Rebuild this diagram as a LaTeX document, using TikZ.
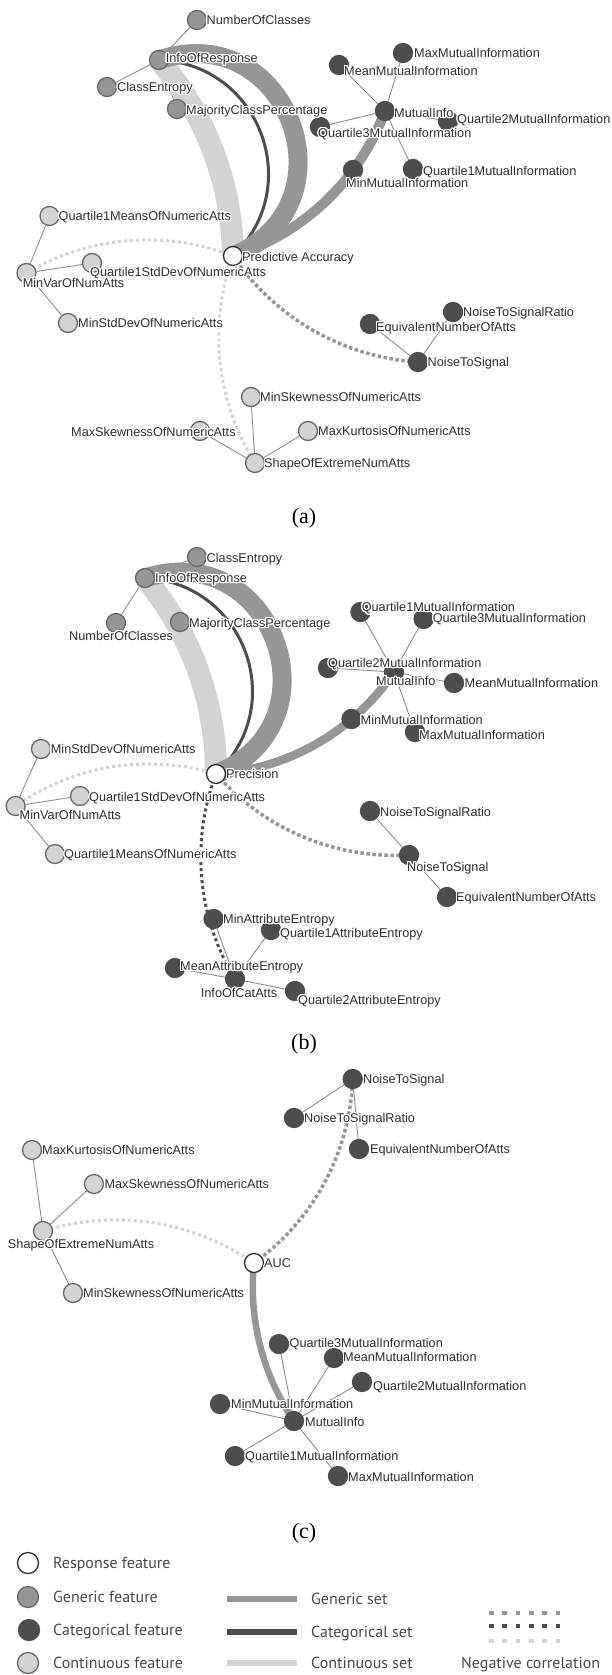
\documentclass[tikz,border=0pt]{standalone}
\usepackage{fontspec}
\usepackage{contour}
\setmainfont{Liberation Serif}
\newfontfamily\lblfont{Liberation Sans}
\newfontfamily\keyfont{PT Sans}
\contourlength{1.2pt}
\contournumber{24}

\definecolor{gen}{HTML}{969696}
\definecolor{cat}{HTML}{4D4D4D}
\definecolor{cont}{HTML}{D3D3D3}
\definecolor{rim}{HTML}{686868}
\definecolor{ink}{HTML}{2E2E2E}
\definecolor{wire}{HTML}{8C8C8C}
\definecolor{keyink}{HTML}{474747}

\pgfdeclarelayer{bg}
\pgfdeclarelayer{fg}
\pgfsetlayers{bg,main,fg}

\tikzset{
  feat/.style={circle, minimum size=19pt, inner sep=0pt, line width=1.3pt},
  resp/.style={feat, draw=ink, fill=white},
  genf/.style={feat, draw=rim, fill=gen},
  catf/.style={feat, draw=cat, fill=cat},
  contf/.style={feat, draw=rim, fill=cont},
  lbl/.style={anchor=base west, inner sep=0pt, text=ink, font=\lblfont\fontsize{12.7}{14}\selectfont, yshift=-4.5pt},
  key/.style={anchor=base west, inner sep=0pt, text=keyink, font=\keyfont\fontsize{16}{18}\selectfont, yshift=-5.5pt},
  tie/.style={draw=wire, line width=0.9pt},
  genset/.style={draw=gen},
  catset/.style={draw=cat},
  contset/.style={draw=cont},
  negcorr/.style={dash pattern=on 3pt off 3pt, line width=3pt},
  % arc shapes
  bow/.style={bend right=26, looseness=0.9},
  bowa/.style={bend right=20, looseness=0.88},
  bowb/.style={bend right=67, looseness=1.23},
  bowc/.style={bend right=88, looseness=1.65}
}

% name, style, position, label position, text
\newcommand{\feat}[5]{%
  \node[#2] (#1) at (#3) {};
  \begin{pgfonlayer}{fg}
    \node[lbl] (#1-lbl) at (#4) {\contour{white}{#5}};
  \end{pgfonlayer}}

\begin{document}
\begin{tikzpicture}[x=1pt, y=-1pt]
    \useasboundingbox (0,0) rectangle (611,1675);

    % ---------- (a) ----------
    \feat{aNoc}{genf}{197,20}{206.5,20}{NumberOfClasses}
    \feat{aIor}{genf}{159,60}{165.6,58}{InfoOfResponse}
    \feat{aCe}{genf}{107,87}{117,87}{ClassEntropy}
    \feat{aMcp}{genf}{177,109}{186,110}{MajorityClassPercentage}
    \feat{aMean}{catf}{339,65}{344,71}{MeanMutualInformation}
    \feat{aMax}{catf}{403,53}{414,53}{MaxMutualInformation}
    \feat{aMi}{catf}{385,111}{394,113}{MutualInfo}
    \feat{aQ2}{catf}{448,121}{457,119}{Quartile2MutualInformation}
    \feat{aQ3}{catf}{320,127}{318,133}{Quartile3MutualInformation}
    \feat{aMin}{catf}{353,170}{346,183}{MinMutualInformation}
    \feat{aQ1}{catf}{413,169}{423,171}{Quartile1MutualInformation}
    \feat{aQmeans}{contf}{49.5,216}{58.5,216}{Quartile1MeansOfNumericAtts}
    \feat{aPa}{resp}{233,256}{242,257}{Predictive Accuracy}
    \feat{aQstd}{contf}{92,263}{90,272}{Quartile1StdDevOfNumericAtts}
    \feat{aMinvar}{contf}{26.5,273}{22.6,283}{MinVarOfNumAtts}
    \feat{aMinstd}{contf}{68,323}{78,323}{MinStdDevOfNumericAtts}
    \feat{aEna}{catf}{370,324}{376,327}{EquivalentNumberOfAtts}
    \feat{aNsr}{catf}{453,312}{463,312}{NoiseToSignalRatio}
    \feat{aNts}{catf}{418,362}{427.5,362}{NoiseToSignal}
    \feat{aMinsk}{contf}{251,397}{260,397}{MinSkewnessOfNumericAtts}
    \feat{aMaxsk}{contf}{200,431}{71,432}{MaxSkewnessOfNumericAtts}
    \feat{aMaxku}{contf}{308,431}{318,431}{MaxKurtosisOfNumericAtts}
    \feat{aShape}{contf}{255,463}{264,463}{ShapeOfExtremeNumAtts}

    \begin{pgfonlayer}{bg}
    \foreach \u/\v in {aIor/aNoc, aIor/aCe, aIor/aMcp, aMi/aMean, aMi/aMax, aMi/aQ2, aMi/aQ3, aMi/aMin, aMi/aQ1,
                       aMinvar/aQmeans, aMinvar/aQstd, aMinvar/aMinstd, aNts/aEna, aNts/aNsr,
                       aShape/aMinsk, aShape/aMaxsk, aShape/aMaxku}
        \draw[tie] (\u) -- (\v);
    \draw[contset, negcorr] (aPa.center) to[bow] (aMinvar.center);
    \draw[contset, negcorr] (aPa.center) to[bow] (aShape.center);
    \draw[genset, negcorr, dash pattern=on 3.5pt off 2.5pt, line width=3.5pt] (aPa.center) to[bow] (aNts.center);
    \draw[contset, line width=22pt] (aPa.center) to[bowa] (aIor.center);
    \draw[catset, line width=3pt] (aPa.center) to[bowb] (aIor.center);
    \draw[genset, line width=19pt] (aPa.center) to[bowc] (aIor.center);
    \draw[genset, line width=10pt] (aPa.center) to[bow] (aMi.center);
    \end{pgfonlayer}

    \node[font=\fontsize{22}{24}\selectfont] (capA) at (304,518) {(a)};

    % ---------- (b) ----------
    \feat{bCe}{genf}{197,557}{206.5,558}{ClassEntropy}
    \feat{bIor}{genf}{145,578}{155,578}{InfoOfResponse}
    \feat{bNoc}{genf}{116,623}{69,636}{NumberOfClasses}
    \feat{bMcp}{genf}{180,622}{189,623}{MajorityClassPercentage}
    \feat{bQ1}{catf}{360.5,612}{361.6,607}{Quartile1MutualInformation}
    \feat{bQ3}{catf}{423.6,619}{432.6,618}{Quartile3MutualInformation}
    \feat{bQ2}{catf}{328,668}{328,663}{Quartile2MutualInformation}
    \feat{bMi}{catf}{394,672}{376,681}{MutualInfo}
    \feat{bMean}{catf}{454,683}{464.5,683}{MeanMutualInformation}
    \feat{bMin}{catf}{351.5,719}{360.5,720}{MinMutualInformation}
    \feat{bMax}{catf}{415,732}{419,735}{MaxMutualInformation}
    \feat{bMinstd}{contf}{41,749}{50.7,749}{MinStdDevOfNumericAtts}
    \feat{bPr}{resp}{216,774}{226,774}{Precision}
    \feat{bQstd}{contf}{80,796}{89,797}{Quartile1StdDevOfNumericAtts}
    \feat{bMinvar}{contf}{15.6,806}{19.5,815}{MinVarOfNumAtts}
    \feat{bQmeans}{contf}{55,854}{64,854}{Quartile1MeansOfNumericAtts}
    \feat{bNsr}{catf}{370,811}{380,812}{NoiseToSignalRatio}
    \feat{bNts}{catf}{409,855}{407,867}{NoiseToSignal}
    \feat{bEna}{catf}{447,897}{456,897}{EquivalentNumberOfAtts}
    \feat{bMinae}{catf}{213.6,919}{223,919}{MinAttributeEntropy}
    \feat{bQ1ae}{catf}{271,930}{280,933}{Quartile1AttributeEntropy}
    \feat{bMeanae}{catf}{175,968}{180,966}{MeanAttributeEntropy}
    \feat{bIca}{catf}{235,979}{200.7,993}{InfoOfCatAtts}
    \feat{bQ2ae}{catf}{295,991}{298,1000}{Quartile2AttributeEntropy}

    \begin{pgfonlayer}{bg}
    \foreach \u/\v in {bIor/bCe, bIor/bNoc, bIor/bMcp, bMi/bQ1, bMi/bQ3, bMi/bQ2, bMi/bMean, bMi/bMin, bMi/bMax,
                       bMinvar/bMinstd, bMinvar/bQstd, bMinvar/bQmeans, bNts/bNsr, bNts/bEna,
                       bIca/bMinae, bIca/bQ1ae, bIca/bMeanae, bIca/bQ2ae}
        \draw[tie] (\u) -- (\v);
    \draw[contset, negcorr] (bPr.center) to[bow] (bMinvar.center);
    \draw[genset, negcorr, dash pattern=on 3.5pt off 2.5pt, line width=3.5pt] (bPr.center) to[bow] (bNts.center);
    \draw[catset, negcorr] (bPr.center) to[bow] (bIca.center);
    \draw[contset, line width=22pt] (bPr.center) to[bowa] (bIor.center);
    \draw[catset, line width=3pt] (bPr.center) to[bowb] (bIor.center);
    \draw[genset, line width=19pt] (bPr.center) to[bowc] (bIor.center);
    \draw[genset, line width=8.5pt] (bPr.center) to[bow] (bMi.center);
    \end{pgfonlayer}

    \node[font=\fontsize{22}{24}\selectfont] (capB) at (304,1044) {(b)};

    % ---------- (c) ----------
    \feat{cNts}{catf}{352.7,1079}{363,1079}{NoiseToSignal}
    \feat{cNsr}{catf}{294,1118}{304,1118}{NoiseToSignalRatio}
    \feat{cEna}{catf}{359,1149}{370,1149}{EquivalentNumberOfAtts}
    \feat{cMaxku}{contf}{32,1150}{42,1150}{MaxKurtosisOfNumericAtts}
    \feat{cMaxsk}{contf}{94,1184}{104.4,1184}{MaxSkewnessOfNumericAtts}
    \feat{cShape}{contf}{43,1231}{7.8,1244}{ShapeOfExtremeNumAtts}
    \feat{cMinsk}{contf}{73,1293}{83,1293}{MinSkewnessOfNumericAtts}
    \feat{cAuc}{resp}{254,1263}{264,1263}{AUC}
    \feat{cQ3}{catf}{279,1344}{289.5,1343}{Quartile3MutualInformation}
    \feat{cMean}{catf}{334,1358}{343,1357}{MeanMutualInformation}
    \feat{cQ2}{catf}{362,1382}{373,1386}{Quartile2MutualInformation}
    \feat{cMin}{catf}{220,1404}{231,1404}{MinMutualInformation}
    \feat{cMi}{catf}{294,1421}{305,1422}{MutualInfo}
    \feat{cQ1}{catf}{235,1456}{245,1456}{Quartile1MutualInformation}
    \feat{cMax}{catf}{338,1476}{348,1477}{MaxMutualInformation}

    \begin{pgfonlayer}{bg}
    \foreach \u/\v in {cNts/cNsr, cNts/cEna, cShape/cMaxku, cShape/cMaxsk, cShape/cMinsk,
                       cMi/cQ3, cMi/cMean, cMi/cQ2, cMi/cMin, cMi/cQ1, cMi/cMax}
        \draw[tie] (\u) -- (\v);
    \draw[contset, negcorr] (cAuc.center) to[bow] (cShape.center);
    \draw[genset, negcorr, dash pattern=on 3.5pt off 2.5pt, line width=3.5pt] (cAuc.center) to[bow] (cNts.center);
    \draw[genset, line width=6.5pt] (cAuc.center) to[bowa] (cMi.center);
    \end{pgfonlayer}

    \node[font=\fontsize{22}{24}\selectfont] (capC) at (304,1533) {(c)};

    % ---------- legend ----------
    \node[resp, minimum size=21pt] (kResp) at (28,1563) {};
    \node[genf, minimum size=21pt] (kGen) at (28,1597) {};
    \node[catf, minimum size=21pt] (kCat) at (29,1630) {};
    \node[contf, minimum size=21pt] (kCont) at (28,1663) {};
    \node[key] (kRespT) at (53,1563) {Response feature};
    \node[key] (kGenT) at (53,1597) {Generic feature};
    \node[key] (kCatT) at (53,1630) {Categorical feature};
    \node[key] (kContT) at (53,1663) {Continuous feature};

    \draw[genset, line width=5.5pt] (227,1599) -- (297,1599);
    \draw[catset, line width=5.5pt] (227,1632) -- (297,1632);
    \draw[contset, line width=5.5pt] (227,1663) -- (297,1663);
    \node[key] (kGenS) at (311,1599) {Generic set};
    \node[key] (kCatS) at (311,1632) {Categorical set};
    \node[key] (kContS) at (311,1663) {Continuous set};

    \draw[genset, line width=4.7pt, dash pattern=on 4.7pt off 8.6pt] (489,1613) -- (563,1613);
    \draw[catset, line width=4.7pt, dash pattern=on 4.7pt off 8.6pt] (489,1626) -- (563,1626);
    \draw[contset, line width=4.7pt, dash pattern=on 4.7pt off 8.6pt] (489,1641) -- (563,1641);
    \node[key] (kNeg) at (461,1663) {Negative correlation};
\end{tikzpicture}
\end{document}
